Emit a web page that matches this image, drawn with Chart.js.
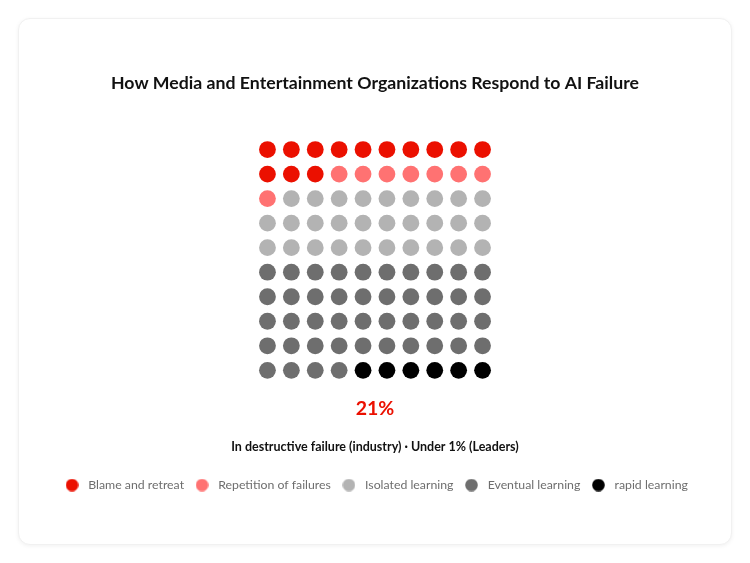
<!DOCTYPE html>
<html>
<head>
<meta charset="utf-8">
<script src="https://cdn.jsdelivr.net/npm/chart.js@4.4.1/dist/chart.umd.min.js"></script>
<style>
  html, body { margin: 0; padding: 0; background: #ffffff; overflow: hidden; }
  #card {
    position: absolute; left: 18px; top: 18px; width: 712px; height: 525px;
    border-radius: 12px; background: #fff;
    border: 1px solid #f1f1f1;
    box-shadow: 0 1px 4px rgba(0,0,0,0.06);
  }
  #wrap { position: absolute; left: 0; top: 0; width: 750px; height: 563px; }
</style>
</head>
<body>
<div id="card"></div>
<div id="wrap"><canvas id="waffle"></canvas></div>
<script>
// categories and counts (out of 100 dots)
const categories = ['Blame and retreat', 'Repetition of failures', 'Isolated learning', 'Eventual learning', 'rapid learning'];
const counts = [13, 8, 29, 44, 6];
const colors = ['#eb1000', '#ff7272', '#b3b3b3', '#6e6e6e', '#000000'];
const headline = '21%';
const caption = 'In destructive failure (industry) \u00b7 Under 1% (Leaders)';
const cols = 10;

const FONT = 'Lato, "Noto Sans", sans-serif';

// turn counts into grid cells, filled row by row
let cell = 0;
const datasets = categories.map((name, i) => {
    const pts = [];
    for (let k = 0; k < counts[i]; k++) {
        pts.push({ x: (cell % cols) + 1, y: Math.floor(cell / cols) + 1 });
        cell++;
    }
    return {
        label: name,
        data: pts,
        backgroundColor: colors[i],
        borderWidth: 0,
        pointRadius: 8.4,
        pointHoverRadius: 8.4
    };
});

function dotImage(color) {
    const c = document.createElement('canvas');
    c.width = 13; c.height = 13;
    const g = c.getContext('2d');
    g.fillStyle = color;
    g.beginPath();
    g.arc(6.5, 6.5, 6.3, 0, Math.PI * 2);
    g.fill();
    return c;
}

// 21% and the caption under the grid
const captionPlugin = {
    id: 'captionPlugin',
    afterDraw(chart) {
        const ctx = chart.ctx;
        const yScale = chart.scales.y;
        const lastRow = yScale.getPixelForValue(Math.ceil(cell / cols));
        const cx = (chart.chartArea.left + chart.chartArea.right) / 2;
        ctx.save();
        ctx.textAlign = 'center';
        ctx.textBaseline = 'middle';
        ctx.fillStyle = colors[0];
        ctx.font = 'bold 19.5px ' + FONT;
        ctx.fillText(headline, cx, lastRow + 38.5);
        ctx.fillStyle = '#111';
        ctx.font = 'bold 12.5px ' + FONT;
        ctx.fillText(caption, cx, lastRow + 76.5);
        ctx.restore();
    }
};

const ctx = document.getElementById('waffle').getContext('2d');
const chart = new Chart(ctx, {
    type: 'scatter',
    data: { datasets: datasets },
    options: {
        responsive: true,
        maintainAspectRatio: false,
        animation: false,
        layout: { padding: { top: 0, bottom: 61.8, left: 0, right: 0 } },
        scales: {
            x: { display: false, min: -9.84, max: 20.84 },
            y: { display: false, reverse: true, min: -0.46, max: 14.1 }
        },
        plugins: {
            title: {
                display: true,
                text: 'How Media and Entertainment Organizations Respond to AI Failure',
                color: '#111',
                font: { family: FONT, size: 17.7, weight: 'bold' },
                padding: { top: 72.5, bottom: 20 }
            },
            legend: {
                position: 'bottom',
                labels: {
                    color: '#6e6e6e',
                    font: { family: FONT, size: 12.3 },
                    usePointStyle: true,
                    pointStyleWidth: 20,
                    boxHeight: 8.5,
                    padding: 8,
                    generateLabels(chart) {
                        const items = Chart.defaults.plugins.legend.labels.generateLabels(chart);
                        items.forEach((it, i) => { it.pointStyle = dotImage(colors[i]); });
                        return items;
                    }
                },
                onClick: () => {}
            },
            tooltip: { enabled: false }
        }
    },
    plugins: [captionPlugin]
});
</script>
</body>
</html>
